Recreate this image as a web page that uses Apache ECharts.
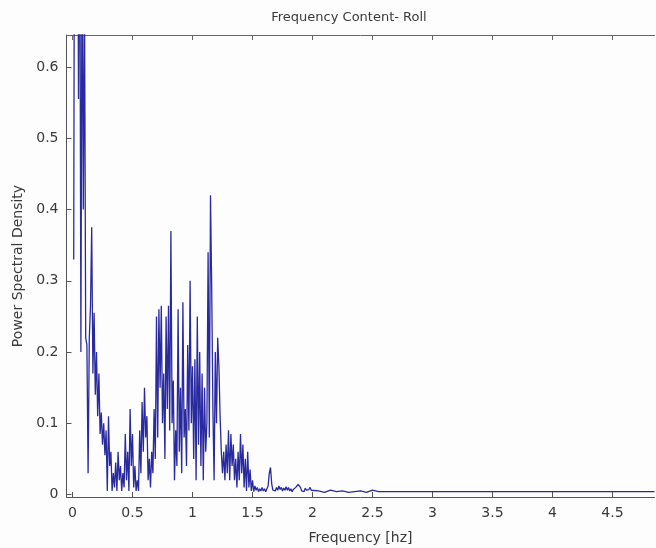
<!DOCTYPE html>
<html>
<head>
<meta charset="utf-8">
<title>Frequency Content- Roll</title>
<script src="https://cdn.jsdelivr.net/npm/echarts@6.0.0/dist/echarts.min.js"></script>
<style>
  html, body { margin: 0; padding: 0; background: #fdfdfd; }
  #psdChart { width: 656px; height: 548px; }
</style>
</head>
<body>
<div id="psdChart"></div>
<script>
// PSD samples every 0.01 Hz, starting at 0.01 Hz
const lowStart = 0.01;
const lowStep = 0.01;
const lowPsd = [
  0.33, 1.2, 0.9, 1.1, 0.555, 0.9, 0.2, 0.8, 0.4, 0.7,
  0.22, 0.21, 0.03, 0.22, 0.265, 0.375, 0.17, 0.255, 0.14, 0.2,
  0.11, 0.17, 0.085, 0.115, 0.07, 0.1, 0.055, 0.09, 0.005, 0.11,
  0.04, 0.06, 0.005, 0.03, 0.01, 0.045, 0.005, 0.06, 0.02, 0.04,
  0.005, 0.03, 0.01, 0.085, 0.02, 0.06, 0.005, 0.12, 0.04, 0.085,
  0.01, 0.04, 0.005, 0.02, 0.005, 0.09, 0.03, 0.13, 0.06, 0.15,
  0.08, 0.11, 0.02, 0.05, 0.01, 0.06, 0.03, 0.12, 0.05, 0.25,
  0.08, 0.26, 0.15, 0.265, 0.1, 0.17, 0.05, 0.25, 0.12, 0.265,
  0.09, 0.37, 0.1, 0.16, 0.02, 0.09, 0.04, 0.26, 0.06, 0.15,
  0.03, 0.27, 0.08, 0.12, 0.04, 0.21, 0.09, 0.3, 0.1, 0.18,
  0.05, 0.19, 0.02, 0.25, 0.07, 0.2, 0.04, 0.17, 0.02, 0.15,
  0.06, 0.1, 0.34, 0.08, 0.42, 0.29, 0.12, 0.02, 0.2, 0.1,
  0.22, 0.18, 0.11, 0.06, 0.03, 0.06, 0.02, 0.07, 0.03, 0.09,
  0.02, 0.085, 0.04, 0.07, 0.02, 0.05, 0.01, 0.06, 0.02, 0.085,
  0.03, 0.07, 0.01, 0.05, 0.005, 0.06, 0.01, 0.035, 0.005, 0.02,
  0.004, 0.012, 0.006, 0.01, 0.004, 0.008, 0.005, 0.01, 0.005, 0.008,
  0.004, 0.006, 0.012, 0.03, 0.038, 0.015, 0.006, 0.008, 0.005, 0.01,
  0.006, 0.012, 0.007, 0.01, 0.005, 0.009, 0.006, 0.011, 0.006, 0.01,
  0.005, 0.008, 0.004, 0.007, 0.005, 0.01, 0.008, 0.014, 0.012, 0.01,
  0.005, 0.007, 0.004, 0.009, 0.006, 0.005, 0.007, 0.01, 0.006, 0.004
];

// flat tail beyond 2 Hz
const tailFreq = [2.05, 2.1, 2.15, 2.2, 2.25, 2.3, 2.35, 2.4, 2.45, 2.5, 2.55, 2.6, 2.7, 3.0, 3.5, 4.0, 4.5, 4.85];
const tailPsd = [0.005, 0.003, 0.006, 0.004, 0.005, 0.003, 0.004, 0.005, 0.003, 0.006, 0.004, 0.004, 0.004, 0.004, 0.004, 0.004, 0.004, 0.004];

const xTicks = [0, 0.5, 1, 1.5, 2, 2.5, 3, 3.5, 4, 4.5];
const yTicks = [0, 0.1, 0.2, 0.3, 0.4, 0.5, 0.6];

let points = lowPsd.map((v, i) => [+(lowStart + i * lowStep).toFixed(2), v]);
tailFreq.forEach((f, i) => points.push([f, tailPsd[i]]));

const font = 'DejaVu Sans';
const textColor = '#3a3a3a';
const axisColor = '#555';

let chartDom = document.getElementById('psdChart');
let myChart = echarts.init(chartDom, null, { renderer: 'canvas' });
let option;

option = {
  backgroundColor: '#fdfdfd',
  animation: false,
  title: {
    text: 'Frequency Content- Roll',
    left: 344,
    textAlign: 'center',
    top: 6,
    textStyle: { fontFamily: font, fontSize: 13, fontWeight: 'normal', color: textColor }
  },
  grid: {
    left: 66.5,
    right: 1.5,
    top: 35,
    height: 462,
    outerBoundsMode: 'none'
  },
  xAxis: [
    {
      type: 'value',
      position: 'bottom',
      min: -0.05,
      max: 4.85,
      name: 'Frequency [hz]',
      nameLocation: 'middle',
      nameGap: 34,
      nameTextStyle: { fontFamily: font, fontSize: 14, color: textColor },
      axisLine: { show: true, onZero: false, lineStyle: { color: axisColor, width: 1 } },
      axisTick: { show: true, inside: true, length: 5, customValues: xTicks, lineStyle: { color: axisColor } },
      axisLabel: { customValues: xTicks, margin: 9, fontFamily: font, fontSize: 14, color: textColor },
      splitLine: { show: false }
    },
    {
      type: 'value',
      position: 'top',
      min: -0.05,
      max: 4.85,
      axisLine: { show: true, onZero: false, lineStyle: { color: '#666', width: 1 } },
      axisTick: { show: true, inside: true, length: 5, customValues: xTicks, lineStyle: { color: '#666' } },
      axisLabel: { show: false },
      splitLine: { show: false }
    }
  ],
  yAxis: {
    type: 'value',
    min: -0.0035,
    max: 0.645,
    name: 'Power Spectral Density',
    nameLocation: 'middle',
    nameRotate: 90,
    nameGap: 41,
    nameTextStyle: { fontFamily: font, fontSize: 14, color: textColor },
    axisLine: { show: true, onZero: false, lineStyle: { color: axisColor, width: 1 } },
    axisTick: { show: true, inside: true, length: 5, customValues: yTicks, lineStyle: { color: axisColor } },
    axisLabel: { customValues: yTicks, margin: 8, fontFamily: font, fontSize: 14, color: textColor },
    splitLine: { show: false }
  },
  series: [
    {
      name: 'PSD',
      type: 'line',
      xAxisIndex: 0,
      data: points,
      showSymbol: false,
      clip: true,
      lineStyle: { color: '#2a2aa0', width: 1.3 }
    }
  ]
};

option && myChart.setOption(option);
</script>
</body>
</html>
